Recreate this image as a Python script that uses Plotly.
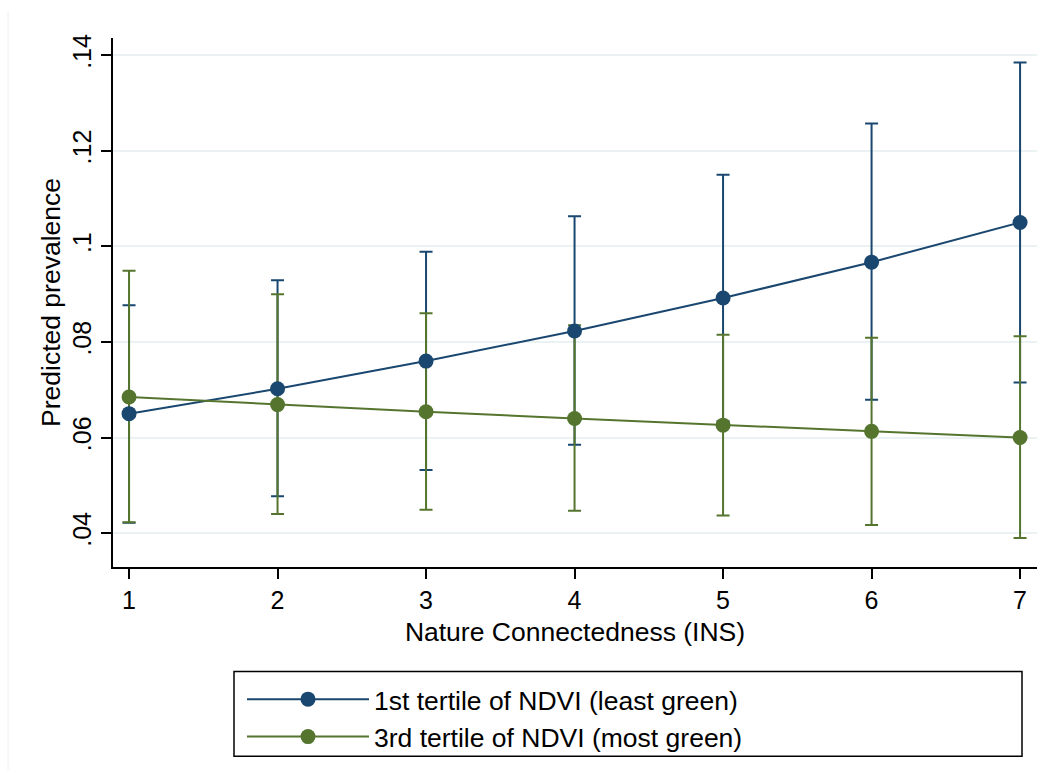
import plotly.graph_objects as go

# ---- data ----
ins = [1, 2, 3, 4, 5, 6, 7]
blue_name = "1st tertile of NDVI (least green)"
blue_mean = [0.0650, 0.0702, 0.0760, 0.0823, 0.0892, 0.0967, 0.1050]
blue_upper = [0.0877, 0.0929, 0.0989, 0.1063, 0.1150, 0.1257, 0.1385]
blue_lower = [0.0422, 0.0477, 0.0532, 0.0585, 0.0634, 0.0679, 0.0715]

green_name = "3rd tertile of NDVI (most green)"
green_mean = [0.0685, 0.0669, 0.0654, 0.0640, 0.0626, 0.0613, 0.0600]
green_upper = [0.0949, 0.0900, 0.0860, 0.0835, 0.0815, 0.0809, 0.0812]
green_lower = [0.0423, 0.0440, 0.0449, 0.0447, 0.0437, 0.0417, 0.0390]

y_ticks = [0.04, 0.06, 0.08, 0.10, 0.12, 0.14]
y_ticklabels = [".04", ".06", ".08", ".1", ".12", ".14"]

BLUE = "#1a476f"
GREEN = "#55752f"
FONT = "Liberation Sans, Arial, sans-serif"

fig = go.Figure()


def ci_trace(mean, upper, lower, color):
    return go.Scatter(
        x=ins, y=mean, mode="markers",
        marker=dict(size=1, color="rgba(0,0,0,0)"),
        error_y=dict(type="data", symmetric=False,
                     array=[u - m for u, m in zip(upper, mean)],
                     arrayminus=[m - l for m, l in zip(mean, lower)],
                     color=color, thickness=2, width=6.5),
        showlegend=False, hoverinfo="skip")


fig.add_trace(ci_trace(blue_mean, blue_upper, blue_lower, BLUE))
fig.add_trace(ci_trace(green_mean, green_upper, green_lower, GREEN))
fig.add_trace(go.Scatter(x=ins, y=blue_mean, mode="lines+markers", name=blue_name,
                         line=dict(color=BLUE, width=2),
                         marker=dict(color=BLUE, size=15)))
fig.add_trace(go.Scatter(x=ins, y=green_mean, mode="lines+markers", name=green_name,
                         line=dict(color=GREEN, width=2),
                         marker=dict(color=GREEN, size=15)))

PW, PH, L, T = 924, 531, 113, 38

fig.update_layout(
    width=1059, height=773,
    margin=dict(l=L, r=22, t=T, b=204),
    paper_bgcolor="white", plot_bgcolor="white",
    font=dict(family=FONT, size=25, color="black"),
    xaxis=dict(range=[0.892, 7.114], tickvals=ins, ticks="outside", ticklen=10,
               tickwidth=1.5, tickcolor="black", showline=True, linecolor="black",
               linewidth=1.5, showgrid=False, zeroline=False,
               tickfont=dict(size=25),
               title=dict(text="Nature Connectedness (INS)", font=dict(size=26.5), standoff=10)),
    yaxis=dict(range=[0.03292, 0.1436], tickvals=y_ticks, ticktext=y_ticklabels,
               tickangle=-90, ticks="outside", ticklen=10, tickwidth=1.5,
               tickcolor="black", showline=True, linecolor="black", linewidth=1.5,
               showgrid=True, gridcolor="#eaf2f3", gridwidth=1.5, zeroline=False,
               tickfont=dict(size=25),
               title=dict(text="Predicted prevalence", font=dict(size=26.5), standoff=0)),
    legend=dict(x=(242 - L) / PW, y=-0.205, xanchor="left", yanchor="top",
                orientation="v", font=dict(size=26.5), itemwidth=122,
                bgcolor="rgba(0,0,0,0)", borderwidth=0),
    shapes=[
        dict(type="rect", xref="paper", yref="paper",
             x0=(234 - L) / PW, x1=(1022 - L) / PW,
             y0=1 - (759 - T) / PH, y1=1 - (674 - T) / PH,
             line=dict(color="black", width=1.5)),
        dict(type="line", xref="paper", yref="paper",
             x0=(8 - L) / PW, x1=(8 - L) / PW,
             y0=1 - (773 - T) / PH, y1=1 - (11 - T) / PH,
             line=dict(color="#eef1f1", width=1)),
    ],
)

fig.write_html("out.html")
